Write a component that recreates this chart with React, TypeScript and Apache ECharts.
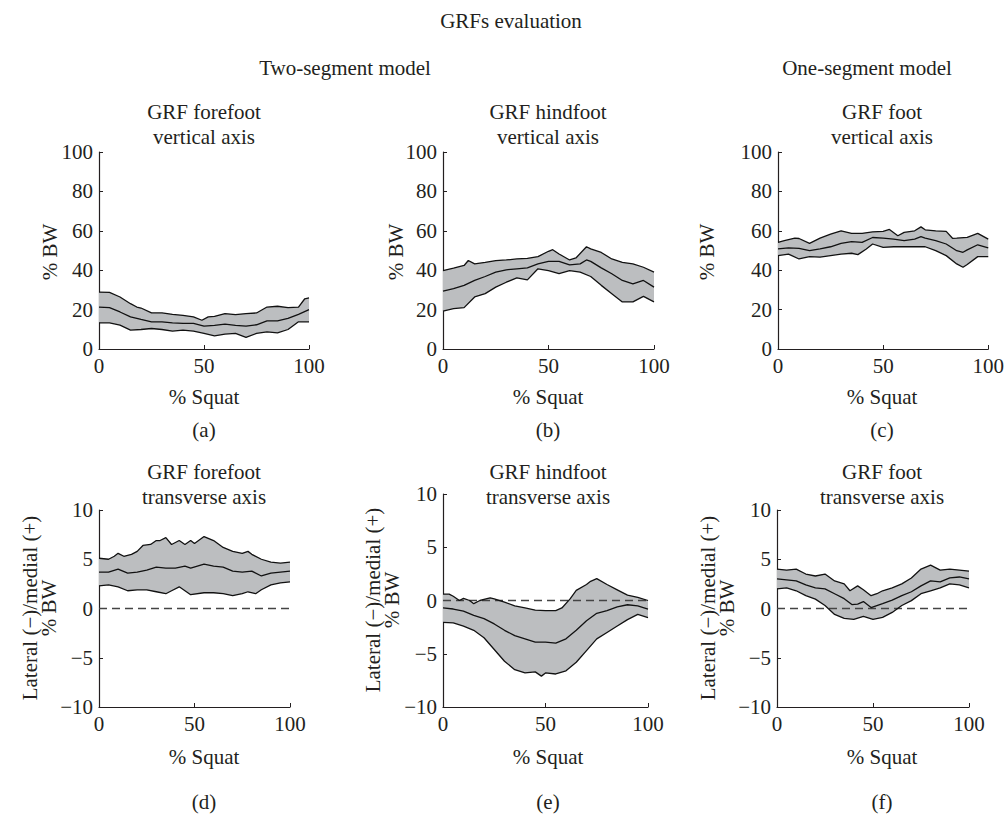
import React, { useEffect, useRef } from "react";
import * as echarts from "echarts";

// ---------- data ----------
const xTicks = [0, 50, 100];
const verticalTicks = [0, 20, 40, 60, 80, 100];
const transverseTicks = [-10, -5, 0, 5, 10];

const aUpper = [[0,28.9],[5,28.7],[10,26.4],[15,23],[18,21.3],[20,20.8],[25,18.3],[30,18.3],[35,17.6],[40,17.1],[45,16.3],[49,14.6],[52,16.3],[55,16.6],[60,18],[65,17.5],[70,18],[75,18.3],[80,21.3],[85,21.7],[90,21],[95,21.3],[98,25.5],[100,26]];
const aMean = [[0,21.3],[5,21],[10,18.8],[15,16.3],[20,15],[25,13.8],[30,13.8],[35,13.3],[40,13],[45,13],[50,11.6],[55,12],[60,12.6],[65,12],[70,11.6],[75,12.3],[80,14.3],[85,14.3],[90,15.5],[95,17.6],[100,20]];
const aLower = [[0,13.3],[5,13.3],[10,12.1],[15,9.6],[20,9.9],[25,10.4],[30,9.9],[35,9.1],[40,9.6],[45,9.1],[50,7.9],[55,6.7],[60,7.6],[65,7.9],[70,5.9],[75,7.9],[80,8.7],[85,8.2],[90,9.9],[95,13.8],[100,13.8]];

const bUpper = [[0,39.8],[5,41],[10,42.4],[12,44.9],[15,43.2],[20,44],[25,44.9],[30,45.2],[35,45.7],[40,46],[45,46.9],[50,49.6],[52,50.4],[55,48.2],[60,45.2],[63,46.2],[68,51.9],[70,50.8],[75,49],[80,45.7],[85,44],[90,43.2],[95,41.5],[100,39]];
const bMean = [[0,29.4],[5,30.6],[10,32.3],[15,34.8],[20,36.8],[25,39],[30,40.2],[35,40.7],[40,41.2],[45,43.2],[50,44.5],[55,44.5],[60,42.7],[65,43.2],[68,45.2],[70,44.5],[75,41.2],[80,38.2],[85,34.8],[90,33.1],[95,34.8],[100,31.4]];
const bLower = [[0,19.2],[5,20.5],[10,21],[15,26.4],[20,28.1],[25,31.4],[30,33.9],[35,36.1],[40,35.1],[45,40.7],[50,39.8],[55,38.2],[60,39.8],[65,39],[70,36.8],[75,32.3],[80,28.1],[85,23.9],[90,23.9],[95,26.7],[100,23.9]];

const cUpper = [[0,54.1],[3,55],[8,56.3],[10,56.1],[15,53.6],[20,56.3],[25,58.3],[30,60],[35,58.7],[40,58.7],[45,59.5],[50,59.7],[53,60.7],[57,57.5],[60,59.2],[65,60],[68,62],[70,60.5],[75,60],[80,59.7],[83,56.2],[85,56.3],[90,56.7],[95,58.7],[100,55.8]];
const cMean = [[0,50.8],[5,51.3],[10,51.1],[15,49.9],[20,50.8],[25,51.9],[30,53.6],[35,54.5],[40,54.1],[45,56.6],[50,56.3],[55,55.8],[60,55],[65,55.8],[68,57],[70,56.3],[75,55],[80,53.3],[85,49.9],[88,49.1],[90,50.3],[95,52.9],[100,51.3]];
const cLower = [[0,47.4],[5,48.2],[10,45.7],[15,46.9],[20,46.6],[25,47.4],[30,48.2],[35,48.6],[38,47.9],[42,50.8],[45,53.3],[50,51.6],[55,51.9],[60,51.9],[65,51.9],[70,51.9],[75,49.9],[80,47.4],[85,43.2],[88,41.5],[90,42.9],[95,46.9],[100,46.9]];

const dUpper = [[0,5.1],[5,5.0],[8,5.3],[10,5.6],[13,5.3],[17,5.5],[20,5.8],[23,6.4],[27,6.5],[30,6.9],[32,6.9],[35,7.2],[38,6.5],[42,6.9],[45,6.5],[48,6.9],[50,6.6],[55,7.3],[60,6.9],[65,6.2],[70,5.8],[75,5.6],[78,5.8],[80,5.5],[85,5.0],[90,4.7],[95,4.6],[100,4.7]];
const dMean = [[0,3.7],[5,3.7],[10,4.0],[15,3.6],[20,3.7],[25,3.9],[30,4.2],[35,4.1],[40,4.1],[45,4.3],[48,4.1],[55,4.5],[60,4.3],[65,4.2],[70,3.8],[75,3.7],[80,3.8],[85,3.3],[90,3.6],[95,3.7],[100,3.8]];
const dLower = [[0,2.3],[5,2.4],[10,2.2],[15,1.8],[20,1.9],[25,1.9],[30,1.7],[35,1.5],[38,1.8],[42,2.2],[45,1.8],[48,1.4],[55,1.6],[60,1.6],[65,1.5],[70,1.3],[75,1.5],[78,1.7],[82,1.5],[85,1.9],[90,2.4],[95,2.6],[100,2.7]];

const eUpper = [[0,0.6],[3,0.6],[5,0.4],[8,0],[10,0.2],[13,0],[15,-0.3],[18,0],[20,0.1],[23,0.25],[25,0.15],[30,-0.15],[35,-0.5],[40,-0.7],[45,-0.9],[50,-0.95],[55,-0.95],[58,-0.7],[62,0.15],[65,0.95],[70,1.5],[72,1.8],[75,2.05],[80,1.5],[85,1.0],[90,0.5],[95,0.3],[100,0]];
const eMean = [[0,-0.7],[5,-0.8],[10,-1.0],[15,-1.4],[20,-1.7],[25,-2.2],[30,-2.8],[35,-3.3],[40,-3.6],[45,-3.9],[50,-3.9],[55,-4.0],[60,-3.6],[65,-2.8],[70,-1.9],[75,-1.2],[80,-0.95],[85,-0.6],[90,-0.4],[95,-0.5],[100,-0.8]];
const eLower = [[0,-2.05],[5,-2.1],[10,-2.4],[15,-2.8],[20,-3.5],[25,-4.6],[30,-5.7],[35,-6.5],[40,-6.8],[45,-6.7],[48,-7.1],[50,-6.8],[55,-6.9],[60,-6.6],[65,-5.8],[70,-4.7],[75,-3.6],[80,-3.0],[85,-2.4],[90,-1.8],[95,-1.3],[100,-1.6]];

const fUpper = [[0,4.0],[5,3.9],[10,4.0],[15,3.5],[20,3.3],[25,3.5],[30,2.8],[35,2.5],[38,1.8],[42,2.3],[45,1.9],[49,1.3],[52,1.5],[55,1.8],[60,2.1],[65,2.5],[70,3.1],[75,4.0],[80,4.4],[85,3.9],[90,4.0],[95,3.9],[100,3.8]];
const fMean = [[0,3.0],[5,2.9],[10,2.8],[15,2.4],[20,2.1],[25,2.0],[30,1.5],[35,1.0],[39,0.4],[42,0.45],[45,0.7],[49,0.1],[52,0.3],[55,0.5],[60,0.85],[65,1.3],[70,1.7],[75,2.3],[80,2.8],[85,2.7],[90,3.1],[95,3.2],[100,3.0]];
const fLower = [[0,2.0],[5,2.1],[10,1.8],[15,1.3],[20,0.95],[25,0.3],[30,-0.6],[35,-1.0],[40,-1.1],[45,-0.8],[50,-1.1],[55,-0.9],[60,-0.4],[65,0.3],[70,0.8],[75,1.5],[80,1.8],[85,2.1],[90,2.5],[95,2.4],[100,2.1]];

const zeroLine = [[0, 0], [100, 0]];

const titlesTop = ["GRF forefoot", "GRF hindfoot", "GRF foot"];
const titlesBottom = ["GRF forefoot", "GRF hindfoot", "GRF foot"];
const panelLetters = ["(a)", "(b)", "(c)", "(d)", "(e)", "(f)"];

// ---------- layout ----------
const FONT = "'Liberation Serif', 'DejaVu Serif', serif";
const FS = 21;
const INK = "#231f20";
const FILL = "#bcbec0";

const panels = [
  { upper: aUpper, mean: aMean, lower: aLower, ticks: verticalTicks, zero: false, box: [99, 152, 210, 197] },
  { upper: bUpper, mean: bMean, lower: bLower, ticks: verticalTicks, zero: false, box: [443, 152, 211, 197] },
  { upper: cUpper, mean: cMean, lower: cLower, ticks: verticalTicks, zero: false, box: [778, 152, 211, 197] },
  { upper: dUpper, mean: dMean, lower: dLower, ticks: transverseTicks, zero: true, box: [99, 510, 191, 197] },
  { upper: eUpper, mean: eMean, lower: eLower, ticks: transverseTicks, zero: true, box: [443, 494, 205, 213] },
  { upper: fUpper, mean: fMean, lower: fLower, ticks: transverseTicks, zero: true, box: [777, 510, 192, 197] },
];

const colCenters = [204, 548, 882];

function txt(text: string, x: number, y: number, rotation = 0) {
  return {
    type: "text",
    x,
    y,
    rotation,
    silent: true,
    style: {
      text,
      fill: INK,
      fontSize: FS,
      fontFamily: FONT,
      align: "center",
      verticalAlign: "middle",
      lineHeight: 19,
    },
  };
}

function buildOption() {
  const grid: any[] = [];
  const xAxis: any[] = [];
  const yAxis: any[] = [];
  const series: any[] = [];

  panels.forEach((p, i) => {
    const [left, top, width, height] = p.box;
    grid.push({ left, top, width, height, containLabel: false });
    const axisCommon = {
      axisLine: { show: true, onZero: false, lineStyle: { color: INK, width: 1.2 } },
      axisTick: { show: true, inside: true, length: 4, lineStyle: { color: INK, width: 1 } },
      splitLine: { show: false },
      axisLabel: { color: INK, fontSize: FS, fontFamily: FONT, margin: 6, formatter: (v: number) => String(v).replace("-", "\u2212") },
    };
    xAxis.push({
      gridIndex: i,
      type: "value",
      min: xTicks[0],
      max: xTicks[xTicks.length - 1],
      interval: xTicks[1] - xTicks[0],
      ...axisCommon,
    });
    yAxis.push({
      gridIndex: i,
      type: "value",
      min: p.ticks[0],
      max: p.ticks[p.ticks.length - 1],
      interval: p.ticks[1] - p.ticks[0],
      ...axisCommon,
    });

    const poly = [...p.upper, ...[...p.lower].reverse()];
    series.push({
      type: "custom",
      xAxisIndex: i,
      yAxisIndex: i,
      data: [[0, 0]],
      encode: { x: 0, y: 1 },
      clip: true,
      z: 1,
      renderItem: (_params: any, api: any) => ({
        type: "polygon",
        shape: { points: poly.map((pt) => api.coord(pt)) },
        style: { fill: FILL, stroke: "none" },
      }),
    });
    if (p.zero) {
      series.push({
        type: "line",
        xAxisIndex: i,
        yAxisIndex: i,
        data: zeroLine,
        symbol: "none",
        z: 2,
        lineStyle: { color: "#444", width: 1.4, type: [8, 5] },
      });
    }
    [p.upper, p.mean, p.lower].forEach((d) => {
      series.push({
        type: "line",
        xAxisIndex: i,
        yAxisIndex: i,
        data: d,
        symbol: "none",
        z: 3,
        lineStyle: { color: "#111", width: 1.3 },
      });
    });
  });

  const graphic: any[] = [
    txt("GRFs evaluation", 511, 21),
    txt("Two-segment model", 345, 68),
    txt("One-segment model", 867, 68),
  ];
  colCenters.forEach((cx, k) => {
    graphic.push(txt(titlesTop[k], cx, 112));
    graphic.push(txt("vertical axis", cx, 137));
    graphic.push(txt("% Squat", cx, 397));
    graphic.push(txt(panelLetters[k], cx, 430));
    graphic.push(txt(titlesBottom[k], cx, 472));
    graphic.push(txt("transverse axis", cx, 497));
    graphic.push(txt("% Squat", cx, 757));
    graphic.push(txt(panelLetters[k + 3], cx, 802));
  });
  const topYLabelX = [50, 396, 707];
  topYLabelX.forEach((x) => graphic.push(txt("% BW", x, 252, Math.PI / 2)));
  const bottomYLabel = [
    [39, 608],
    [382, 600],
    [717, 608],
  ];
  bottomYLabel.forEach(([x, y]) =>
    graphic.push(txt("Lateral (\u2212)/medial (+)\n% BW", x, y, Math.PI / 2))
  );

  return {
    animation: false,
    backgroundColor: "#ffffff",
    grid,
    xAxis,
    yAxis,
    series,
    graphic,
  };
}

export default function App() {
  const ref = useRef<HTMLDivElement>(null);
  useEffect(() => {
    if (!ref.current) return;
    const chart = echarts.init(ref.current, undefined, { renderer: "svg" });
    chart.setOption(buildOption() as any);
    return () => chart.dispose();
  }, []);
  return (
    <div
      ref={ref}
      style={{ position: "fixed", left: 0, top: 0, width: 1007, height: 816, background: "#fff" }}
    />
  );
}
